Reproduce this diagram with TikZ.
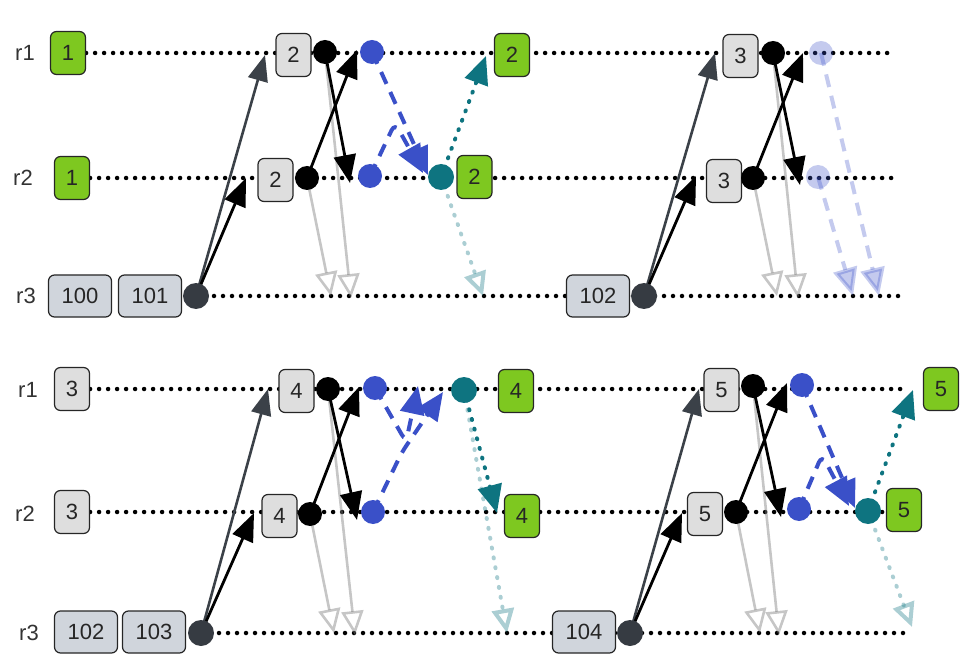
\documentclass[tikz,border=0pt]{standalone}
\usepackage{fontspec}
\setmainfont{Liberation Sans}
\usetikzlibrary{arrows.meta}
\definecolor{grn}{HTML}{7EC820}
\definecolor{lgr}{HTML}{DEDEDE}
\definecolor{bgr}{HTML}{D0D5DC}
\definecolor{vblue}{HTML}{3A50C8}
\definecolor{teal2}{HTML}{0E7480}
\definecolor{dkc}{HTML}{363B42}
\definecolor{sendc}{HTML}{3B4148}
\pgfdeclarelayer{bg}
\pgfsetlayers{bg,main}
\begin{document}
\begin{tikzpicture}[x=1pt,y=-1pt,
  box/.style={draw=black!85, line width=1.2pt, rounded corners=6pt, minimum width=35pt, minimum height=43pt, inner sep=0pt, font=\fontsize{22}{26}\selectfont, text=black!85},
  gbox/.style={box, fill=grn},
  lbox/.style={box, fill=lgr},
  wbox/.style={box, fill=bgr, minimum width=63pt, minimum height=42pt},
  lab/.style={font=\fontsize{22}{26}\selectfont, text=black!80},
  dotc/.style={circle, minimum size=24pt, inner sep=0pt},
  bk/.style={dotc, fill=black},
  bl/.style={dotc, fill=vblue},
  fbl/.style={dotc, fill=vblue, fill opacity=0.3},
  te/.style={dotc, fill=teal2, minimum size=26pt},
  dk/.style={dotc, fill=dkc, minimum size=26pt},
  life/.style={black, line width=4.5pt, dash pattern=on 0pt off 9pt, line cap=round},
  send/.style={sendc, line width=2.6pt, -{Triangle[length=26pt,width=20pt]}},
  blk/.style={black, line width=2.8pt, -{Triangle[length=28pt,width=22pt]}},
  fade/.style={gray, opacity=0.45, line width=2.6pt, -{Triangle[open,length=24pt,width=22pt]}},
  vote/.style={vblue, line width=4pt, dash pattern=on 13pt off 9pt, rounded corners=8pt, -{Triangle[length=28pt,width=24pt]}},
  fvote/.style={vote, opacity=0.3},
  com/.style={teal2, line width=4pt, dash pattern=on 1pt off 9pt, line cap=round, -{Triangle[length=28pt,width=24pt]}},
  fcom/.style={teal2, opacity=0.35, line width=4pt, dash pattern=on 1pt off 9pt, line cap=round, -{Triangle[open,length=24pt,width=22pt]}},
]
\useasboundingbox (0,0) rectangle (977,668);

% ---------------- top panel ----------------
\node[lab] (tr1) at (25,53) {r1};
\node[lab] (tr2) at (23,178) {r2};
\node[lab] (tr3) at (26,296) {r3};
\node[gbox] (ta1) at (68,53) {1};
\node[gbox] (ta2) at (72,178) {1};
\node[wbox] (ta3) at (80,296) {100};
\node[wbox] (ta4) at (150,296) {101};
\node[dk] (td1) at (196,296) {};
\node[lbox] (tb1) at (293.5,55) {2};
\node[bk] (tk1) at (325,52) {};
\node[bl] (tu1) at (372,52) {};
\node[gbox] (tg1) at (512,55) {2};
\node[lbox] (tb2) at (275.5,180) {2};
\node[bk] (tk2) at (307,178) {};
\node[bl] (tu2) at (370,176) {};
\node[te] (tt2) at (441,177) {};
\node[gbox] (tg2) at (474.5,177) {2};
\node[wbox] (ta5) at (598,296) {102};
\node[dk] (td2) at (644,296) {};
\node[lbox] (tc1) at (740.5,56) {3};
\node[bk] (tm1) at (773,53) {};
\node[fbl] (tf1) at (821,53) {};
\node[lbox] (tc2) at (724,181) {3};
\node[bk] (tm2) at (753,178) {};
\node[fbl] (tf2) at (818,177) {};

\coordinate (tx1) at (265,55);
\coordinate (tx2) at (246,178);
\coordinate (tx3) at (357,50);
\coordinate (tx4) at (350,183);
\coordinate (tx5) at (331,296);
\coordinate (tx6) at (351,298);
\coordinate (tx7) at (428,175);
\coordinate (tw7) at (395,123);
\coordinate (tx8) at (423,173);
\coordinate (tx9) at (486,56);
\coordinate (tx10) at (483,296);
\coordinate (ty1) at (715,53);
\coordinate (ty2) at (696,176);
\coordinate (ty3) at (803,53);
\coordinate (ty4) at (800,185);
\coordinate (ty5) at (777,296);
\coordinate (ty6) at (798,298);
\coordinate (ty7) at (879,296);
\coordinate (ty8) at (853,296);

% ---------------- bottom panel ----------------
\node[lab] (br1) at (28,390) {r1};
\node[lab] (br2) at (25,514) {r2};
\node[lab] (br3) at (29,633) {r3};
\node[lbox] (ba1) at (72,389) {3};
\node[lbox] (ba2) at (72,512) {3};
\node[wbox] (ba3) at (86,632) {102};
\node[wbox] (ba4) at (154,632) {103};
\node[dk] (bd1) at (201,633) {};
\node[lbox] (bb1) at (296.5,391) {4};
\node[bk] (bk1) at (328,389) {};
\node[bl] (bu1) at (375,388) {};
\node[te] (bt1) at (464,390) {};
\node[gbox] (bg1) at (516,391) {4};
\node[lbox] (bb2) at (279.5,516) {4};
\node[bk] (bk2) at (310,514) {};
\node[bl] (bu2) at (373,512) {};
\node[gbox] (bg2) at (522,516) {4};
\node[wbox] (ba5) at (584,632) {104};
\node[dk] (bd2) at (630,633) {};
\node[lbox] (bc1) at (721.5,390) {5};
\node[bk] (bm1) at (753,386) {};
\node[bl] (bv1) at (802,385) {};
\node[gbox] (bh1) at (941,389) {5};
\node[lbox] (bc2) at (705,514) {5};
\node[bk] (bm2) at (736,512) {};
\node[bl] (bv2) at (799,509) {};
\node[te] (bt2) at (868,511) {};
\node[gbox] (bh2) at (904,510) {5};

\coordinate (bx1) at (268,389);
\coordinate (bx2) at (254,513);
\coordinate (bx3) at (359,387);
\coordinate (bx4) at (357,520);
\coordinate (bx5) at (334,633);
\coordinate (bx6) at (355,635);
\coordinate (bw7) at (406,442);
\coordinate (bx7) at (418,386);
\coordinate (bw8) at (402,452);
\coordinate (bx8) at (443,392);
\coordinate (bx9) at (497,513);
\coordinate (bx10) at (507,633);
\coordinate (by1) at (699,389);
\coordinate (by2) at (682,513);
\coordinate (by3) at (787,383);
\coordinate (by4) at (781,517);
\coordinate (by5) at (760,633);
\coordinate (by6) at (779,635);
\coordinate (by7) at (855,508);
\coordinate (bz8) at (822,455);
\coordinate (by8) at (849,506);
\coordinate (by9) at (913,390);
\coordinate (by10) at (912,627);

\coordinate (tend1) at (895,53);
\coordinate (tend2) at (895,178);
\coordinate (tend3) at (900,296);
\coordinate (bend1) at (902,390);
\coordinate (bend2) at (887,514);
\coordinate (bend3) at (903,633);

\begin{pgfonlayer}{bg}
% lifelines
\draw[life] (ta1.east) -- (ta1.east -| tend1);
\draw[life] (ta2.east) -- (ta2.east -| tend2);
\draw[life] (td1.center) -- (td1.center -| tend3);
\draw[life] (ba1.east) -- (ba1.east -| bend1);
\draw[life] (ba2.east) -- (ba2.east -| bend2);
\draw[life] (bd1.center) -- (bd1.center -| bend3);

% top-left
\draw[fade] (tk2.center) -- (tx5);
\draw[fade] (tk1.center) -- (tx6);
\draw[fcom] (tt2.center) -- (tx10);
\draw[send] (td1.center) -- (tx1);
\draw[blk] (td1.center) -- (tx2);
\draw[blk] (tk2.center) -- (tx3);
\draw[blk] (tk1.center) -- (tx4);
\draw[vote] (tu1.center) -- (tx7);
\draw[vote] (tu2.center) -- (tw7) -- (tx8);
\draw[com] (tt2.center) -- (tx9);

% top-right
\draw[fade] (tm2.center) -- (ty5);
\draw[fade] (tm1.center) -- (ty6);
\draw[fvote] (tf1.center) -- (ty7);
\draw[fvote] (tf2.center) -- (ty8);
\draw[send] (td2.center) -- (ty1);
\draw[blk] (td2.center) -- (ty2);
\draw[blk] (tm2.center) -- (ty3);
\draw[blk] (tm1.center) -- (ty4);

% bottom-left
\draw[fade] (bk2.center) -- (bx5);
\draw[fade] (bk1.center) -- (bx6);
\draw[fcom] (bt1.center) -- (bx10);
\draw[send] (bd1.center) -- (bx1);
\draw[blk] (bd1.center) -- (bx2);
\draw[blk] (bk2.center) -- (bx3);
\draw[blk] (bk1.center) -- (bx4);
\draw[vote] (bu1.center) -- (bw7) -- (bx7);
\draw[vote] (bu2.center) -- (bw8) -- (bx8);
\draw[com] (bt1.center) -- (bx9);

% bottom-right
\draw[fade] (bm2.center) -- (by5);
\draw[fade] (bm1.center) -- (by6);
\draw[fcom] (bt2.center) -- (by10);
\draw[send] (bd2.center) -- (by1);
\draw[blk] (bd2.center) -- (by2);
\draw[blk] (bm2.center) -- (by3);
\draw[blk] (bm1.center) -- (by4);
\draw[vote] (bv1.center) -- (by7);
\draw[vote] (bv2.center) -- (bz8) -- (by8);
\draw[com] (bt2.center) -- (by9);
\end{pgfonlayer}
\end{tikzpicture}
\end{document}
